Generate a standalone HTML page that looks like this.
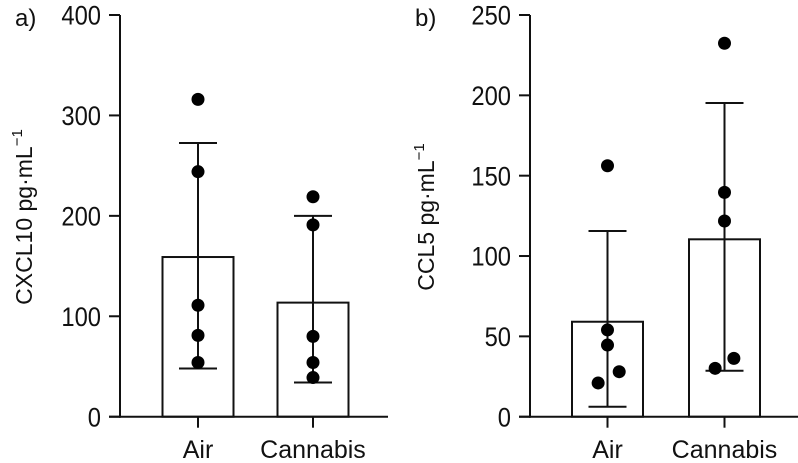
<!DOCTYPE html>
<html><head><meta charset="utf-8">
<style>
html,body{margin:0;padding:0;background:#fff;}
svg{display:block;font-family:"Liberation Sans",sans-serif;}
</style></head>
<body>
<svg id="chart" width="798" height="463" viewBox="0 0 798 463"></svg>
<script>
const categories = ["Air", "Cannabis"];
const aMeans = [159, 113.6];
const aErrHigh = [272.6, 200];
const aErrLow = [48, 34];
const aPointsAir = [316, 244, 111, 81, 54];
const aPointsCannabis = [219, 191, 80, 54, 39];
const aTicks = [0, 100, 200, 300, 400];

const bMeans = [59.1, 110.4];
const bErrHigh = [115.6, 195.2];
const bErrLow = [6.2, 28.6];
const bPointsAir = [156.2, 54, 44.6, 28, 21];
const bPointsCannabis = [232.4, 139.6, 121.8, 36.3, 30.1];
const bJitterAir = [0, 0, 0, 0.1, -0.08];
const bJitterCannabis = [0, 0, 0, 0.08, -0.08];
const bTicks = [0, 50, 100, 150, 200, 250];

const NS = "http://www.w3.org/2000/svg";
const svg = document.getElementById("chart");
function mk(tag, attrs, parent, text){
  const e = document.createElementNS(NS, tag);
  for (const k in attrs) e.setAttribute(k, attrs[k]);
  if (text !== undefined) e.textContent = text;
  (parent || svg).appendChild(e);
  return e;
}

function panel(o){
  const g = mk("g", {});
  
  
  const y = v => o.y0 - (v - 0) * (o.y0 - o.yTop) / o.yMax;
  const xc = i => o.centers[i];
  const catW = o.centers[1] - o.centers[0];
  o.means.forEach((m, i) => {
    const r = mk("rect", {x: xc(i) - o.barW/2, y: y(m), width: o.barW, height: y(0) - y(m), fill: "#fff", stroke: "#111", "stroke-width": 2}, g);
    
    
  });
  o.means.forEach((m, i) => {
    const eg = mk("g", {stroke: "#111", "stroke-width": 2}, g);
    
    
    mk("line", {x1: xc(i), x2: xc(i), y1: y(o.hi[i]), y2: y(o.lo[i])}, eg);
    mk("line", {x1: xc(i) - 19, x2: xc(i) + 19, y1: y(o.hi[i]), y2: y(o.hi[i])}, eg);
    mk("line", {x1: xc(i) - 19, x2: xc(i) + 19, y1: y(o.lo[i]), y2: y(o.lo[i])}, eg);
  });
  o.points.forEach((arr, i) => {
    arr.forEach((v, j) => {
      const jit = o.jitter ? o.jitter[i][j] : 0;
      const c = mk("circle", {cx: xc(i) + jit * catW, cy: y(v), r: 6.5, fill: "#000"}, g);
      
      
    });
  });
  const ax = mk("g", {stroke: "#111", "stroke-width": 2}, g);
  
  
  mk("line", {x1: o.axisX, x2: o.axisX, y1: o.yTop, y2: o.y0 + 1}, ax);
  const xa = mk("line", {x1: o.axisX - 11, x2: o.xEnd, y1: o.y0, y2: o.y0, stroke: "#111", "stroke-width": 2}, g);
  
  
  o.ticks.forEach(t => {
    mk("line", {x1: o.axisX - 11, x2: o.axisX, y1: y(t), y2: y(t)}, ax);
    const tl = mk("text", {x: o.axisX - 19, y: y(t) + 9, "text-anchor": "end", "font-size": 25, fill: "#111", transform: `translate(${o.axisX - 19},${y(t)}) scale(0.95,1.08) translate(${-(o.axisX - 19)},${-y(t)})`}, g, String(t));
    
    
  });
  categories.forEach((c, i) => {
    mk("line", {x1: xc(i), x2: xc(i), y1: o.y0, y2: o.y0 + 11, stroke: "#111", "stroke-width": 2}, g);
    const cl = mk("text", {x: xc(i), y: 458, "text-anchor": "middle", "font-size": 25, fill: "#111"}, g, c);
    
    
  });
  const yt = mk("text", {x: 0, y: 0, transform: `translate(${o.labelX},${o.labelY}) rotate(-90)`, "text-anchor": "middle", "font-size": 23, fill: "#111"}, g);
  
  
  yt.innerHTML = o.label + ' pg·mL<tspan dy="-10" font-size="15">−1</tspan>';
  const pl = mk("text", {x: o.letterX, y: 26, "font-size": 24, fill: "#111"}, g, o.letter);
  
  
}

panel({name: "panel-a-cxcl10", y0: 416.7, yTop: 15, yMax: 400, axisX: 120, xEnd: 388, centers: [198, 313], barW: 71,
  means: aMeans, hi: aErrHigh, lo: aErrLow, points: [aPointsAir, aPointsCannabis], ticks: aTicks,
  label: "CXCL10", labelX: 32, labelY: 217, letter: "a)", letterX: 15});
panel({name: "panel-b-ccl5", y0: 416.7, yTop: 15, yMax: 250, axisX: 530, xEnd: 798, centers: [607.5, 724.5], barW: 71,
  means: bMeans, hi: bErrHigh, lo: bErrLow, points: [bPointsAir, bPointsCannabis], ticks: bTicks,
  jitter: [bJitterAir, bJitterCannabis],
  label: "CCL5", labelX: 434, labelY: 217, letter: "b)", letterX: 415});
</script>
</body></html>
